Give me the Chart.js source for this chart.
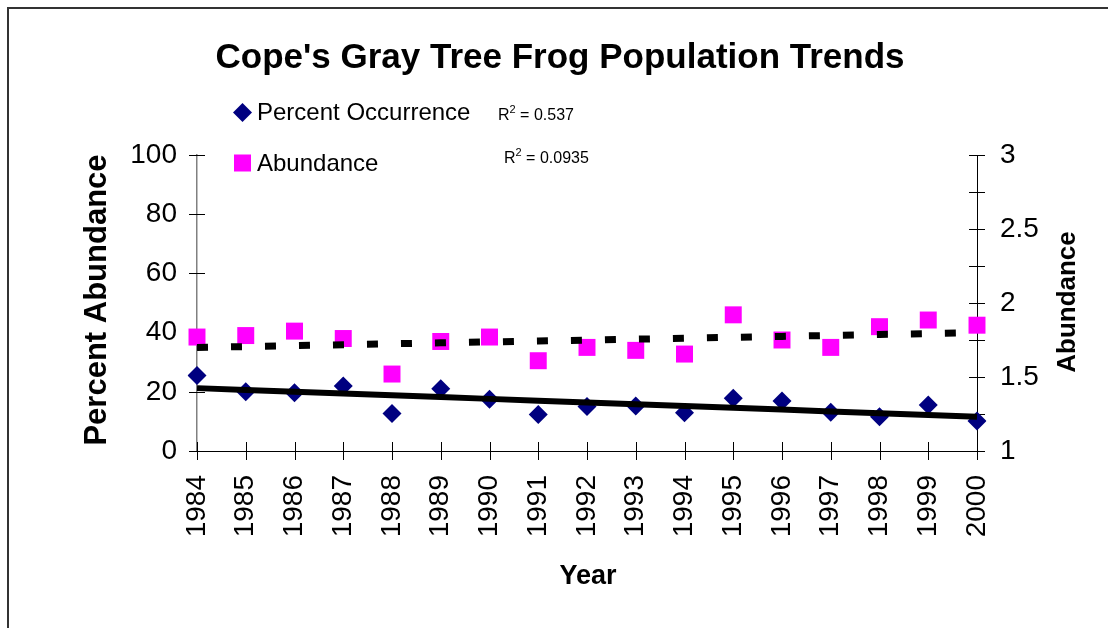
<!DOCTYPE html>
<html>
<head>
<meta charset="utf-8">
<title>Cope's Gray Tree Frog Population Trends</title>
<script src="https://cdn.jsdelivr.net/npm/chart.js@4.4.0/dist/chart.umd.min.js"></script>
<style>
    body { margin: 0; background: #fff; }
</style>
</head>
<body>
<canvas id="myChart" width="1108" height="628"></canvas>
<script>
// data
var years = ['1984', '1985', '1986', '1987', '1988', '1989', '1990', '1991', '1992',
    '1993', '1994', '1995', '1996', '1997', '1998', '1999', '2000'];
var percent_occurrence = [25.5, 20.0, 19.7, 22.0, 12.7, 21.0, 17.5, 12.3, 15.0,
    15.2, 12.9, 17.8, 16.9, 13.1, 11.6, 15.5, 10.1];
var abundance = [1.77, 1.78, 1.81, 1.76, 1.52, 1.74, 1.77, 1.61, 1.70,
    1.68, 1.655, 1.92, 1.75, 1.70, 1.84, 1.885, 1.85];
var left_ticks = [0, 20, 40, 60, 80, 100];
var right_ticks = [1, 1.5, 2, 2.5, 3];
var r2_labels = ['0.537', '0.0935'];

var FONT = "'Liberation Sans', Arial, sans-serif";

// least squares line through the points, same as the excel trendline
function trendline(values) {
    var n = values.length, sx = 0, sy = 0, sxy = 0, sxx = 0;
    for (var i = 0; i < n; i++) {
        sx += i; sy += values[i]; sxy += i * values[i]; sxx += i * i;
    }
    var slope = (n * sxy - sx * sy) / (n * sxx - sx * sx);
    var icpt = (sy - slope * sx) / n;
    var out = [];
    for (var j = 0; j < n; j++) out.push(icpt + slope * j);
    return out;
}

function drawTicks(ctx, scale, values, horizontal, half) {
    ctx.save();
    ctx.strokeStyle = '#000';
    ctx.lineWidth = 1;
    ctx.beginPath();
    for (var i = 0; i < values.length; i++) {
        if (horizontal) {
            var x = Math.round(scale.getPixelForTick(i)) + 0.5;
            ctx.moveTo(x, scale.top - half);
            ctx.lineTo(x, scale.top + half);
        } else {
            var y = Math.round(scale.getPixelForValue(values[i])) + 0.5;
            var ax = scale.position == 'left' ? scale.right : scale.left;
            ctx.moveTo(ax - half, y);
            ctx.lineTo(ax + half, y);
        }
    }
    ctx.stroke();
    ctx.restore();
}

function drawR2(ctx, x, y, value) {
    ctx.font = '16px ' + FONT;
    ctx.fillText('R', x, y);
    var w = ctx.measureText('R').width;
    ctx.font = '11px ' + FONT;
    ctx.fillText('2', x + w, y - 7);
    var w2 = ctx.measureText('2').width;
    ctx.font = '16px ' + FONT;
    ctx.fillText(' = ' + value, x + w + w2, y);
}

var framePlugin = {
    id: 'frame',
    beforeDraw: function(chart) {
        var ctx = chart.ctx;
        ctx.save();
        ctx.fillStyle = '#fff';
        ctx.fillRect(0, 0, chart.width, chart.height);
        ctx.strokeStyle = '#333';
        ctx.lineWidth = 2;
        ctx.strokeRect(8, 8, 1200, 800);
        ctx.restore();
    },
    beforeDatasetsDraw: function(chart) {
        var ctx = chart.ctx;
        drawTicks(ctx, chart.scales.x, years, true, 9);
        drawTicks(ctx, chart.scales.y, chart.scales.y.ticks.map(function(t) { return t.value; }), false, 8);
        drawTicks(ctx, chart.scales.y1, chart.scales.y1.ticks.map(function(t) { return t.value; }), false, 8);
    },
    afterDraw: function(chart) {
        var ctx = chart.ctx;
        ctx.save();
        ctx.fillStyle = '#000';
        ctx.textAlign = 'center';
        ctx.textBaseline = 'alphabetic';
        ctx.font = 'bold 35px ' + FONT;
        ctx.fillText("Cope's Gray Tree Frog Population Trends", 560, 68);

        ctx.font = 'bold 27px ' + FONT;
        ctx.textBaseline = 'middle';
        ctx.fillText('Year', 588, 577);

        ctx.save();
        ctx.translate(97, 300);
        ctx.rotate(-Math.PI / 2);
        ctx.font = 'bold 31px ' + FONT;
        ctx.fillText('Percent Abundance', 0, 0);
        ctx.restore();

        ctx.save();
        ctx.translate(1068, 302);
        ctx.rotate(-Math.PI / 2);
        ctx.font = 'bold 26px ' + FONT;
        ctx.fillText('Abundance', 0, 0);
        ctx.restore();

        // legend
        ctx.fillStyle = '#000080';
        ctx.beginPath();
        ctx.moveTo(242.5, 103);
        ctx.lineTo(252, 112.5);
        ctx.lineTo(242.5, 122);
        ctx.lineTo(233, 112.5);
        ctx.closePath();
        ctx.fill();
        ctx.fillStyle = '#FF00FF';
        ctx.fillRect(234, 154.5, 17, 17);

        ctx.fillStyle = '#000';
        ctx.textAlign = 'left';
        ctx.textBaseline = 'alphabetic';
        ctx.font = '24px ' + FONT;
        ctx.fillText('Percent Occurrence', 257, 120);
        ctx.fillText('Abundance', 257, 171);

        drawR2(ctx, 498, 120, r2_labels[0]);
        drawR2(ctx, 504, 163, r2_labels[1]);
        ctx.restore();
    }
};

var myChart = new Chart(document.getElementById('myChart'), {
    type: 'line',
    data: {
        labels: years,
        datasets: [
            {
                label: 'Percent Occurrence',
                data: percent_occurrence,
                yAxisID: 'y',
                showLine: false,
                pointStyle: 'rectRot',
                pointRadius: 9.5,
                backgroundColor: '#000080',
                borderColor: '#000080',
                borderWidth: 0,
                order: 2
            },
            {
                label: 'Abundance',
                data: abundance,
                yAxisID: 'y1',
                showLine: false,
                pointStyle: 'rect',
                pointRadius: 12,
                backgroundColor: '#FF00FF',
                borderColor: '#FF00FF',
                borderWidth: 0,
                order: 2
            },
            {
                label: 'trend occurrence',
                data: trendline(percent_occurrence),
                yAxisID: 'y',
                borderColor: '#000',
                borderWidth: 6,
                pointRadius: 0,
                order: 0
            },
            {
                label: 'trend abundance',
                data: trendline(abundance),
                yAxisID: 'y1',
                borderColor: '#000',
                borderWidth: 7,
                borderDash: [11, 23],
                borderCapStyle: 'butt',
                pointRadius: 0,
                order: 0
            }
        ]
    },
    options: {
        responsive: false,
        animation: false,
        devicePixelRatio: 1,
        layout: { padding: { top: 155, left: 0, right: 0, bottom: 0 } },
        plugins: {
            legend: { display: false },
            title: { display: false },
            tooltip: { enabled: false }
        },
        scales: {
            x: {
                type: 'category',
                offset: false,
                grid: { display: false, drawTicks: false },
                border: { display: true, color: '#000', width: 1 },
                ticks: {
                    autoSkip: false,
                    minRotation: 90,
                    maxRotation: 90,
                    padding: 24,
                    color: '#000',
                    font: { family: FONT, size: 28 }
                },
                afterFit: function(scale) { scale.height = 177; }
            },
            y: {
                position: 'left',
                min: 0,
                max: 100,
                grid: { display: false, drawTicks: false },
                border: { display: true, color: '#808080', width: 1.5 },
                ticks: {
                    stepSize: 20,
                    padding: 20,
                    color: '#000',
                    font: { family: FONT, size: 28 },
                    callback: function(v) { return left_ticks.indexOf(v) >= 0 ? v : ''; }
                },
                afterFit: function(scale) { scale.width = 197; }
            },
            y1: {
                position: 'right',
                min: 1,
                max: 3,
                grid: { display: false, drawTicks: false },
                border: { display: true, color: '#000', width: 1 },
                ticks: {
                    stepSize: 0.25,
                    padding: 23,
                    color: '#000',
                    font: { family: FONT, size: 28 },
                    callback: function(v) { return right_ticks.indexOf(v) >= 0 ? v : ''; }
                },
                afterFit: function(scale) { scale.width = 131; }
            }
        }
    },
    plugins: [framePlugin]
});
</script>
</body>
</html>
